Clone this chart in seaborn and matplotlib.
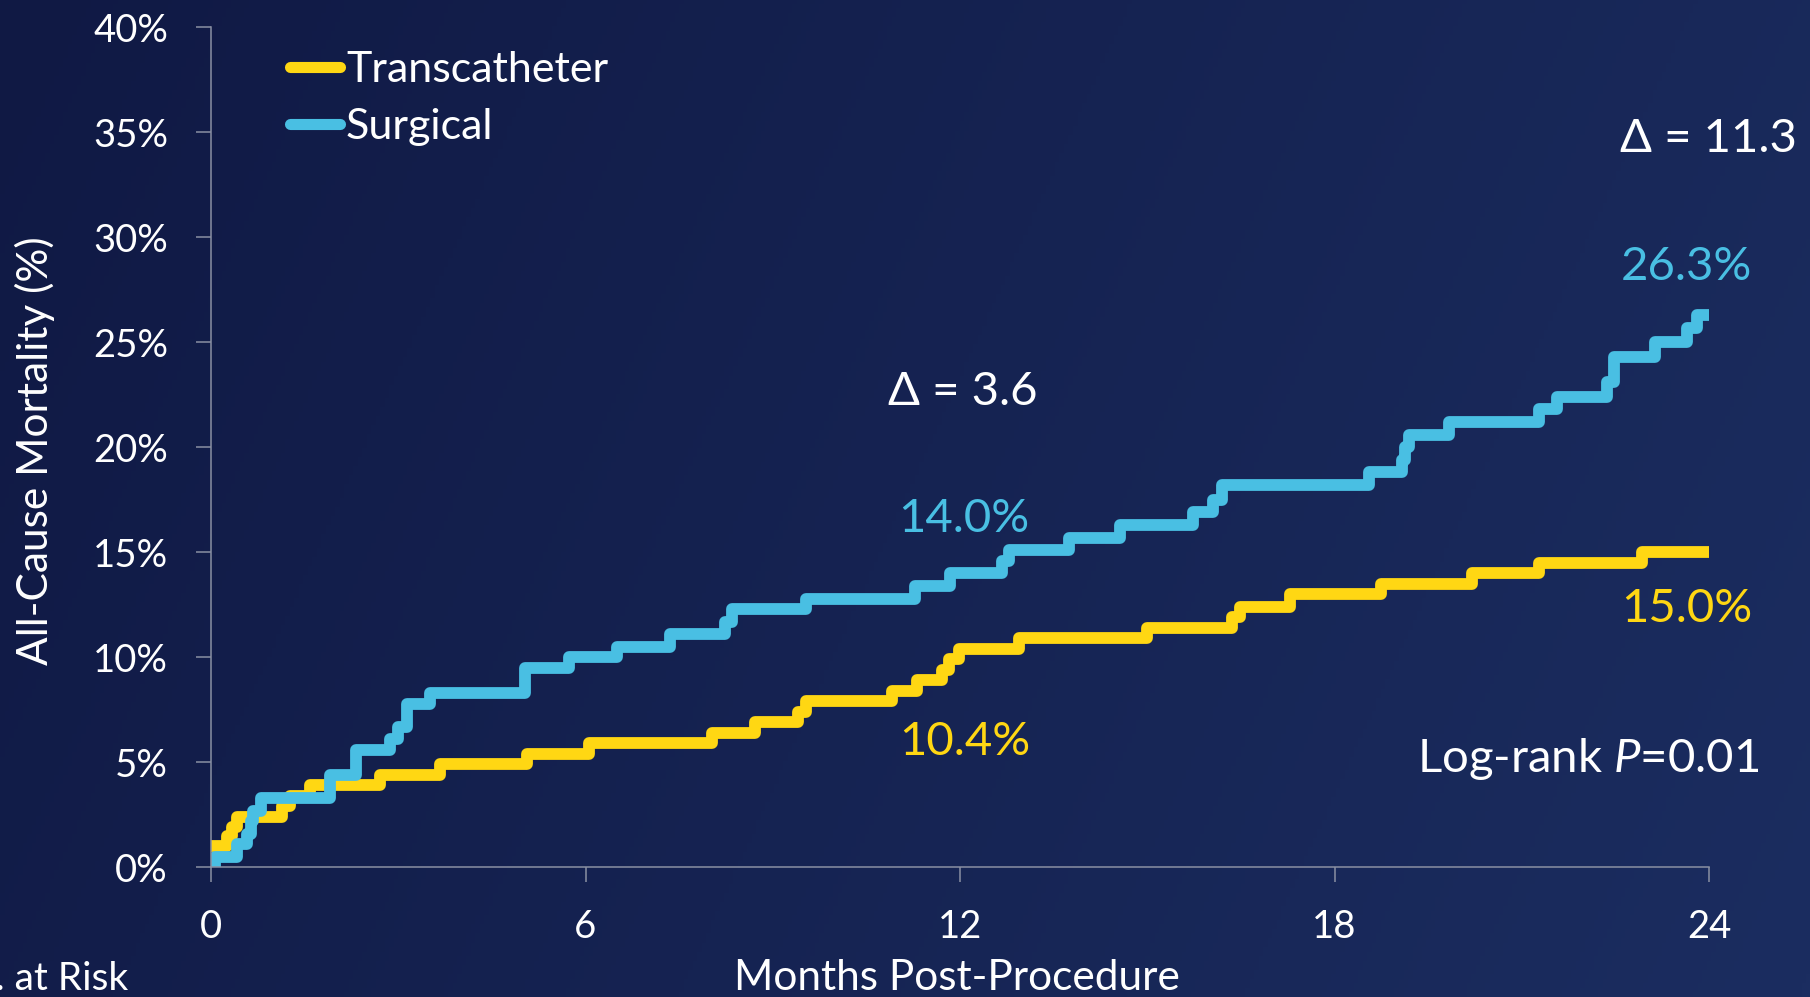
import numpy as np
import pandas as pd
import matplotlib
matplotlib.use("Agg")
import matplotlib.pyplot as plt
from matplotlib.colors import LinearSegmentedColormap
import seaborn as sns

# Kaplan-Meier style cumulative mortality (step times in months, % at each step)
months_transcatheter = [0.0, 0.25, 0.33, 0.41, 1.13, 1.27, 1.59, 2.71, 3.67, 5.06,
                        6.05, 8.02, 8.72, 9.41, 9.54, 10.91, 11.31, 11.71, 11.82, 11.98,
                        12.94, 15.00, 16.36, 16.48, 17.28, 18.74, 20.20, 21.27, 22.93, 24.0]
mortality_transcatheter = [1.0, 1.5, 1.9, 2.4, 2.9, 3.4, 3.9, 4.4, 4.9, 5.4,
                           5.9, 6.4, 6.9, 7.4, 7.9, 8.4, 8.9, 9.4, 9.9, 10.4,
                           10.9, 11.4, 11.9, 12.4, 13.0, 13.5, 14.0, 14.5, 15.0, 15.0]

months_surgical = [0.0, 0.06, 0.41, 0.57, 0.64, 0.68, 0.80, 1.91, 2.33, 2.87,
                   3.00, 3.14, 3.51, 5.03, 5.73, 6.50, 7.36, 8.24, 8.34, 9.54,
                   11.28, 11.84, 12.67, 12.78, 13.74, 14.56, 15.73, 16.06, 16.20, 18.55,
                   19.08, 19.13, 19.19, 19.83, 21.27, 21.57, 22.37, 22.47, 23.13, 23.65,
                   23.81, 24.0]
mortality_surgical = [0.0, 0.5, 1.1, 1.6, 2.2, 2.7, 3.3, 4.4, 5.6, 6.1,
                      6.7, 7.8, 8.3, 9.5, 10.0, 10.5, 11.1, 11.7, 12.3, 12.8,
                      13.4, 14.0, 14.6, 15.1, 15.7, 16.3, 16.9, 17.5, 18.2, 18.8,
                      19.4, 20.0, 20.6, 21.2, 21.8, 22.4, 23.1, 24.3, 25.0, 25.7,
                      26.3, 26.3]

groups = ["Transcatheter", "Surgical"]
group_colors = ["#FFD713", "#49BFE3"]
x_ticks = [0, 6, 12, 18, 24]
y_ticks = [0, 5, 10, 15, 20, 25, 30, 35, 40]
landmark_months = [12, 24]

df = pd.concat([
    pd.DataFrame({"month": months_transcatheter, "mortality": mortality_transcatheter,
                  "group": groups[0]}),
    pd.DataFrame({"month": months_surgical, "mortality": mortality_surgical,
                  "group": groups[1]}),
], ignore_index=True)


def value_at(months, values, t):
    idx = np.searchsorted(np.asarray(months), t, side="right") - 1
    return values[idx]


sns.set_theme(style="ticks")
plt.rcParams["font.family"] = ["Lato", "DejaVu Sans"]
plt.rcParams["mathtext.fontset"] = "custom"
plt.rcParams["mathtext.rm"] = "Lato"
plt.rcParams["mathtext.it"] = "Lato:italic"

W, H = 1810, 997
fig = plt.figure(figsize=(W / 100, H / 100), dpi=100)

# navy backdrop, slightly lighter toward the lower right
bg = fig.add_axes([0, 0, 1, 1], zorder=-10)
gx, gy = np.meshgrid(np.linspace(0, 1, 400), np.linspace(0, 1, 220))
shade = 0.8 * gx + 0.2 * gy
navy = LinearSegmentedColormap.from_list("navy", ["#101944", "#1b2d60"])
bg.imshow(shade, cmap=navy, aspect="auto", extent=[0, 1, 0, 1], origin="upper")
bg.set_axis_off()

# plot area in pixel terms
x0, x1 = 211, 1709
y_bot, y_top = 867.3, 27.3
ax = fig.add_axes([x0 / W, 1 - y_bot / H, (x1 - x0) / W, (y_bot - y_top) / H])
ax.set_facecolor("none")

line_w = 8.5
sns.lineplot(data=df, x="month", y="mortality", hue="group", hue_order=groups,
             palette=group_colors, estimator=None, drawstyle="steps-post",
             linewidth=line_w, solid_capstyle="butt", ax=ax)

ax.set_xlim(0, 24)
ax.set_ylim(0, 40)
ax.set_xticks(x_ticks)
ax.set_xticklabels([str(t) for t in x_ticks])
ax.set_yticks(y_ticks)
ax.set_yticklabels([f"{t}%" for t in y_ticks])

axis_grey = "#8a90a3"
for side in ("top", "right"):
    ax.spines[side].set_visible(False)
for side in ("left", "bottom"):
    ax.spines[side].set_color(axis_grey)
    ax.spines[side].set_linewidth(1.1)
ax.tick_params(axis="both", colors=axis_grey, labelcolor="white", length=11,
               width=1.1, labelsize=27.5)
ax.tick_params(axis="x", pad=19)
ax.tick_params(axis="y", pad=20)

ax.set_xlabel("Months Post-Procedure", color="white", fontsize=30.5)
ax.xaxis.set_label_coords(0.498, -0.109)
ax.set_ylabel("All-Cause Mortality (%)", color="white", fontsize=30.5)
ax.yaxis.set_label_coords(-0.104, 0.496)

# legend in the upper left of the plot
old = ax.get_legend()
handles = old.legend_handles
labels = [t.get_text() for t in old.get_texts()]
old.remove()
leg = ax.legend(handles, labels, loc="upper left",
                bbox_to_anchor=(290 / W, 1 - 51 / H), bbox_transform=fig.transFigure,
                frameon=False, fontsize=31, labelcolor="white", borderpad=0,
                borderaxespad=0, handlelength=1.15, handletextpad=0.15,
                labelspacing=0.45)
for h in leg.get_lines():
    h.set_linewidth(8)
    h.set_solid_capstyle("round")

# landmark annotations taken from the curves
t12 = value_at(months_transcatheter, mortality_transcatheter, landmark_months[0])
s12 = value_at(months_surgical, mortality_surgical, landmark_months[0])
t24 = value_at(months_transcatheter, mortality_transcatheter, landmark_months[1])
s24 = value_at(months_surgical, mortality_surgical, landmark_months[1])

big = 34
ax.text(12.04, 22.0, f"Δ = {s12 - t12:.1f}", color="white", fontsize=big,
        ha="center", va="baseline")
ax.text(12.06, 15.98, f"{s12:.1f}%", color=group_colors[1], fontsize=big,
        ha="center", va="baseline")
ax.text(12.07, 5.35, f"{t12:.1f}%", color=group_colors[0], fontsize=big,
        ha="center", va="baseline")
ax.text(23.99, 34.06, f"Δ = {s24 - t24:.1f}", color="white", fontsize=big,
        ha="center", va="baseline", clip_on=False)
ax.text(23.64, 27.97, f"{s24:.1f}%", color=group_colors[1], fontsize=big,
        ha="center", va="baseline", clip_on=False)
ax.text(23.64, 11.68, f"{t24:.1f}%", color=group_colors[0], fontsize=big,
        ha="center", va="baseline", clip_on=False)
ax.text(22.06, 4.54, "Log-rank $P$=0.01", color="white", fontsize=big,
        ha="center", va="baseline", clip_on=False)

fig.text(128 / W, 1 - 990 / H, "No. at Risk", color="white", fontsize=28,
         ha="right", va="baseline")

fig.savefig("out.png", dpi=100, facecolor=fig.get_facecolor())
